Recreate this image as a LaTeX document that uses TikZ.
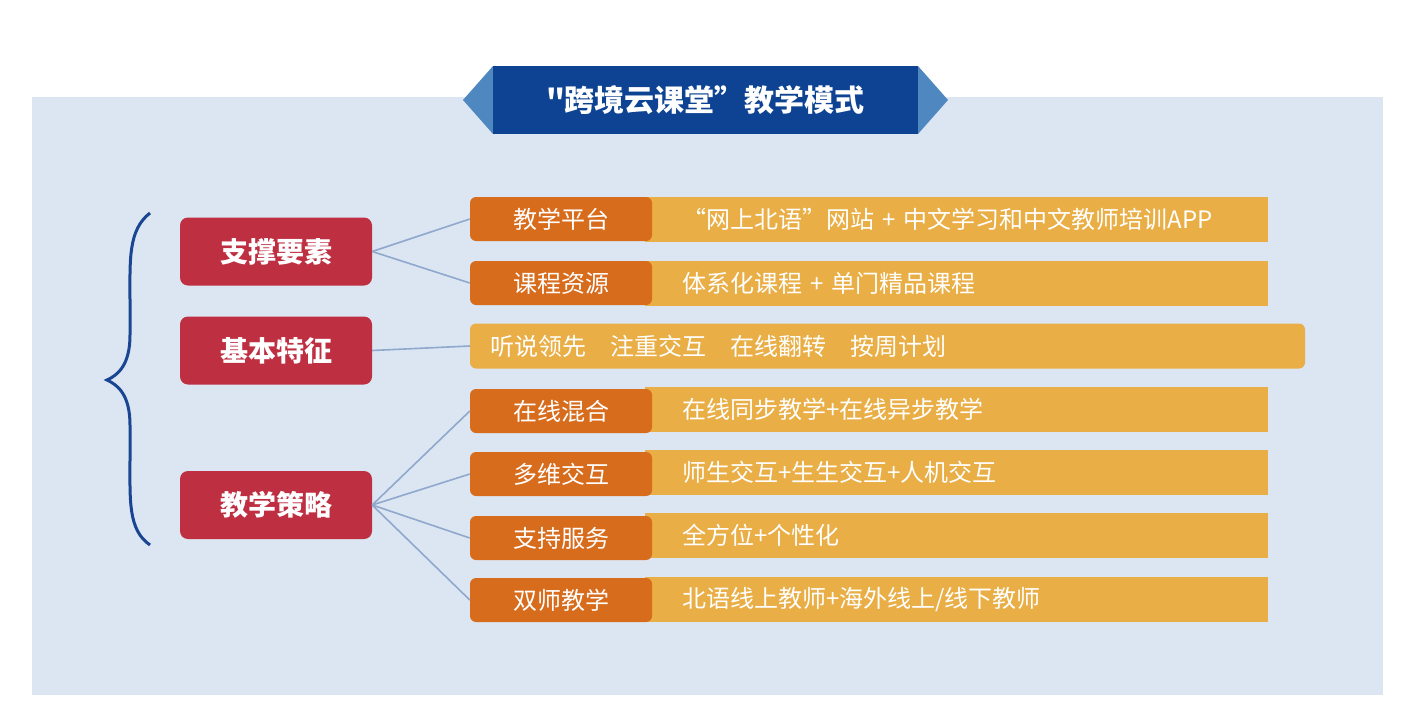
\documentclass[tikz,border=0pt]{standalone}
\usepackage{fontspec}
\newfontfamily\cjk{Noto Sans CJK SC}
\begin{document}
\begin{tikzpicture}[x=1pt,y=-1pt,
  red/.style={fill=boxred,rounded corners=8pt,text=white,font=\cjk\bfseries\fontsize{28}{30}\selectfont,minimum width=192pt,minimum height=68pt,inner sep=0pt},
  tab/.style={fill=taborange,rounded corners=6pt,text=white,font=\cjk\fontsize{24}{26}\selectfont,minimum width=182pt,minimum height=44pt,inner sep=0pt},
  bar/.style={fill=baryellow,text=white,font=\cjk\fontsize{24}{26}\selectfont,anchor=west,minimum height=45pt,inner sep=0pt,text width=623pt,align=left},
  link/.style={draw=linkblue,line width=1.6pt}]
\definecolor{bg}{HTML}{DCE6F2}
\definecolor{dblue}{HTML}{0D4392}
\definecolor{lblue}{HTML}{4F87C0}
\definecolor{boxred}{HTML}{BE2F41}
\definecolor{taborange}{HTML}{D86C1D}
\definecolor{baryellow}{HTML}{E9AE45}
\definecolor{linkblue}{HTML}{8FA8CC}
\definecolor{brace}{HTML}{1A4593}
\useasboundingbox (0,0) rectangle (1424,723);
\fill[white] (0,0) rectangle (1424,723);
\fill[bg] (32,97) rectangle (1383,695);
% title
\fill[lblue] (493,66) -- (463,100) -- (493,134) -- cycle;
\fill[lblue] (918,66) -- (948,100) -- (918,134) -- cycle;
\node[fill=dblue,minimum width=425pt,minimum height=68pt,inner sep=0pt,text=white,font=\cjk\bfseries\fontsize{30}{32}\selectfont] (title) at (705.5,100) {"跨境云课堂”教学模式};
% brace
\draw[brace,line width=3pt] (150,213) .. controls (128,230) and (130,260) .. (130,300) -- (130,335) .. controls (130,365) and (118,375) .. (107,380) .. controls (118,385) and (130,395) .. (130,425) -- (130,460) .. controls (130,500) and (128,530) .. (150,545);
% red boxes
\node[red] (s1) at (276,251.5) {支撑要素};
\node[red] (s2) at (276,350.5) {基本特征};
\node[red] (s3) at (276,505) {教学策略};
% bars
\node[bar] (b1) at (645,219.5) {\hspace*{37pt}“网上北语”网站 + 中文学习和中文教师培训APP};
\node[bar] (b2) at (645,283) {\hspace*{37pt}体系化课程 + 单门精品课程};
\node[bar] (b4) at (645,409.5) {\hspace*{37pt}在线同步教学+在线异步教学};
\node[bar] (b5) at (645,472.5) {\hspace*{37pt}师生交互+生生交互+人机交互};
\node[bar] (b6) at (645,535.5) {\hspace*{37pt}全方位+个性化};
\node[bar] (b7) at (645,599.5) {\hspace*{37pt}北语线上教师+海外线上/线下教师};
% tabs
\node[tab] (t1) at (561,219) {教学平台};
\node[tab] (t2) at (561,283) {课程资源};
\node[fill=baryellow,rounded corners=6pt,text=white,font=\cjk\fontsize{24}{26}\selectfont,minimum width=835pt,minimum height=45pt,inner sep=0pt,text width=795pt,align=left] (t3) at (887.5,346) {听说领先\hspace{1em}注重交互\hspace{1em}在线翻转\hspace{1em}按周计划};
\node[tab] (t4) at (561,411) {在线混合};
\node[tab] (t5) at (561,474) {多维交互};
\node[tab] (t6) at (561,538) {支持服务};
\node[tab] (t7) at (561,600) {双师教学};
% links
\draw[link] (s1.east) -- (t1.west);
\draw[link] (s1.east) -- (t2.west);
\draw[link] (s2.east) -- (t3.west);
\foreach \t in {t4,t5,t6,t7} \draw[link] (s3.east) -- (\t.west);
\end{tikzpicture}
\end{document}
